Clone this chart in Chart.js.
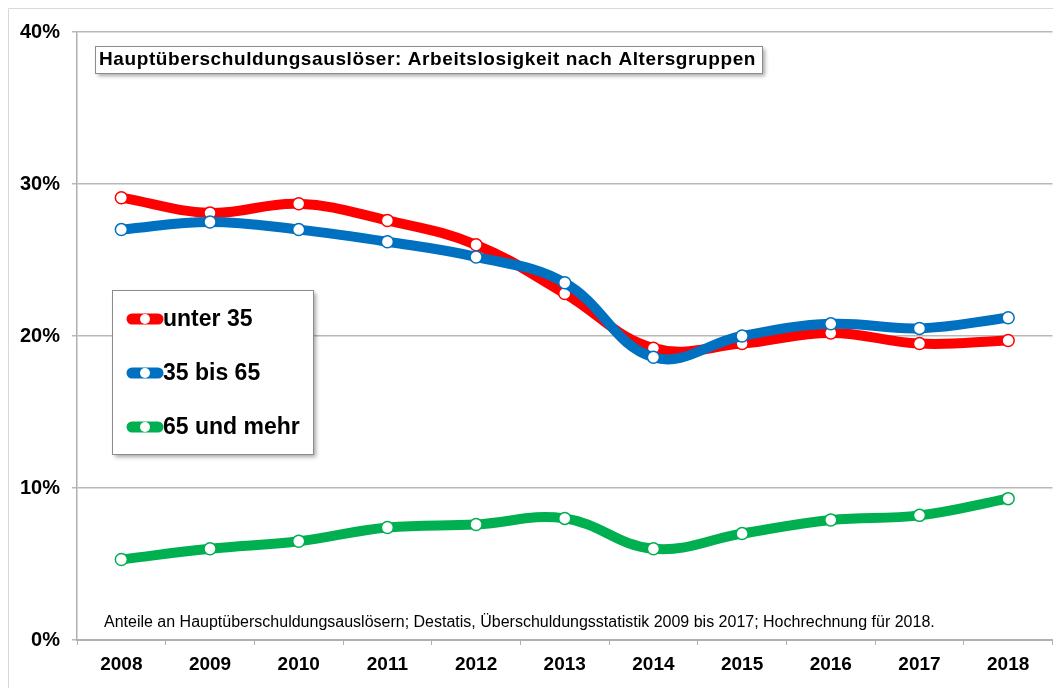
<!DOCTYPE html>
<html>
<head>
<meta charset="utf-8">
<script src="https://cdn.jsdelivr.net/npm/chart.js@4"></script>
<style>
  html, body { margin: 0; padding: 0; background: #fff; overflow: hidden; }
  #wrap { width: 1060px; height: 688px; position: relative; }
</style>
</head>
<body>
<div id="wrap"><canvas id="chart"></canvas></div>
<script>
// ===== DATA =====
const years = ['2008', '2009', '2010', '2011', '2012', '2013', '2014', '2015', '2016', '2017', '2018'];
const under35 = [29.1, 28.1, 28.7, 27.6, 26.0, 22.8, 19.2, 19.5, 20.2, 19.5, 19.7];
const from35to65 = [27.0, 27.5, 27.0, 26.2, 25.2, 23.5, 18.6, 20.0, 20.8, 20.5, 21.2];
const over65 = [5.3, 6.0, 6.5, 7.4, 7.6, 8.0, 6.0, 7.0, 7.9, 8.2, 9.3];
const seriesLabels = ['unter 35', '35 bis 65', '65 und mehr'];
const seriesColors = ['#ff0000', '#0070c0', '#00b050'];
const titleText = 'Hauptüberschuldungsauslöser: Arbeitslosigkeit nach Altersgruppen';
const noteText = 'Anteile an Hauptüberschuldungsauslösern; Destatis, Überschuldungsstatistik 2009 bis 2017; Hochrechnung für 2018.';

const FONT = '"Liberation Sans", Arial, sans-serif';

function make_dataset(label, data, color, order) {
    return {
        label: label,
        data: data,
        borderColor: color,
        backgroundColor: '#ffffff',
        borderWidth: 10,
        tension: 0.4,
        pointRadius: 6,
        pointBackgroundColor: '#ffffff',
        pointBorderColor: color,
        pointBorderWidth: 1.5,
        order: order
    };
}

// draws a box with drop shadow
function shadow_box(ctx, x, y, w, h) {
    ctx.save();
    ctx.shadowColor = 'rgba(0,0,0,0.35)';
    ctx.shadowBlur = 4;
    ctx.shadowOffsetX = 3;
    ctx.shadowOffsetY = 3;
    ctx.fillStyle = '#ffffff';
    ctx.fillRect(x, y, w, h);
    ctx.restore();
    ctx.strokeStyle = '#8c8c8c';
    ctx.lineWidth = 1;
    ctx.strokeRect(x + 0.5, y + 0.5, w, h);
}

// ===== OVERLAY PLUGIN (frame, title box, legend, footnote) =====
const overlay = {
    id: 'overlay',
    beforeDraw(chart) {
        const ctx = chart.ctx;
        ctx.save();
        ctx.strokeStyle = '#d9d9d9';
        ctx.lineWidth = 1;
        ctx.beginPath();
        ctx.moveTo(8.5, 700);
        ctx.lineTo(8.5, 8.5);
        ctx.lineTo(1100, 8.5);
        ctx.stroke();
        ctx.restore();
    },
    afterDraw(chart) {
        const ctx = chart.ctx;
        ctx.save();

        // title box
        shadow_box(ctx, 95, 46, 667, 27);
        ctx.fillStyle = '#000';
        ctx.font = 'bold 19px ' + FONT;
        ctx.letterSpacing = '0.6px';
        ctx.textBaseline = 'middle';
        ctx.fillText(titleText, 99, 60);
        ctx.letterSpacing = '0px';

        // legend box
        shadow_box(ctx, 112, 290, 201, 164);
        ctx.font = 'bold 23px ' + FONT;
        const rows = [319, 373, 427];
        for (let i = 0; i < rows.length; i++) {
            const y = rows[i];
            ctx.strokeStyle = seriesColors[i];
            ctx.lineWidth = 11;
            ctx.lineCap = 'round';
            ctx.beginPath();
            ctx.moveTo(132, y);
            ctx.lineTo(158, y);
            ctx.stroke();
            ctx.fillStyle = '#ffffff';
            ctx.beginPath();
            ctx.arc(145, y, 5, 0, Math.PI * 2);
            ctx.fill();
            ctx.fillStyle = '#000';
            ctx.fillText(seriesLabels[i], 163, y + 1);
        }

        // footnote
        ctx.font = '16px ' + FONT;
        ctx.fillStyle = '#000';
        ctx.fillText(noteText, 104, 623);
        ctx.restore();
    }
};

// ===== CHART =====
function init_chart() {
    const ctx = document.getElementById('chart').getContext('2d');
    new Chart(ctx, {
        type: 'line',
        data: {
            labels: years,
            datasets: [
                make_dataset(seriesLabels[0], under35, seriesColors[0], 3),
                make_dataset(seriesLabels[1], from35to65, seriesColors[1], 2),
                make_dataset(seriesLabels[2], over65, seriesColors[2], 1)
            ]
        },
        options: {
            responsive: true,
            maintainAspectRatio: false,
            animation: false,
            layout: { padding: { top: 32, right: 4, left: 0, bottom: 0 } },
            scales: {
                x: {
                    offset: true,
                    grid: {
                        offset: true,
                        drawOnChartArea: false,
                        tickLength: 5,
                        color: '#b0b0b0'
                    },
                    border: { color: '#b0b0b0', width: 2 },
                    ticks: {
                        color: '#000',
                        font: { family: FONT, size: 19, weight: 'bold' },
                        padding: 8
                    },
                    afterFit(scale) { scale.height = 48; }
                },
                y: {
                    min: 0,
                    max: 40,
                    grid: {
                        color: '#b8b8b8',
                        lineWidth: 1.5,
                        tickLength: 5
                    },
                    border: { color: '#b0b0b0', width: 1.5 },
                    ticks: {
                        stepSize: 10,
                        color: '#000',
                        padding: 12,
                        font: { family: FONT, size: 20, weight: 'bold' },
                        callback: function(value) { return value + '%'; }
                    },
                    afterFit(scale) { scale.width = 77; }
                }
            },
            plugins: {
                legend: { display: false },
                tooltip: { enabled: false }
            }
        },
        plugins: [overlay]
    });
}

window.addEventListener('load', () => {
    init_chart();
});
</script>
</body>
</html>
